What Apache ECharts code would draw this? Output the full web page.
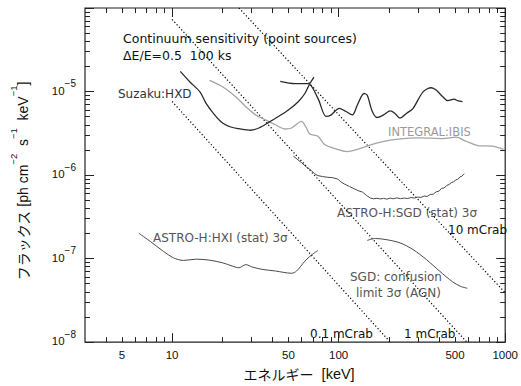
<!DOCTYPE html>
<html><head><meta charset="utf-8">
<script src="https://cdn.jsdelivr.net/npm/echarts@6/dist/echarts.min.js"></script>
<style>html,body{margin:0;padding:0;background:#fff}#c{width:521px;height:386px}</style>
</head><body><div id="c"></div>
<script>
// ---- tick values ----
const xMajorTicks = [10, 100, 1000];
const xMinorTicks = [4, 5, 6, 7, 8, 9, 20, 30, 40, 50, 60, 70, 80, 90, 200, 300, 400, 500, 600, 700, 800, 900];
const xTickLabels = [5, 10, 50, 100, 500, 1000];
const yMajorTicks = [1e-8, 1e-7, 1e-6, 1e-5, 1e-4];
const yMinorTicks = [2e-8, 3e-8, 4e-8, 5e-8, 6e-8, 7e-8, 8e-8, 9e-8,
  2e-7, 3e-7, 4e-7, 5e-7, 6e-7, 7e-7, 8e-7, 9e-7,
  2e-6, 3e-6, 4e-6, 5e-6, 6e-6, 7e-6, 8e-6, 9e-6,
  2e-5, 3e-5, 4e-5, 5e-5, 6e-5, 7e-5, 8e-5, 9e-5];
const yTickLabels = [1e-8, 1e-7, 1e-6, 1e-5];

// ---- Suzaku HXD (PIN part) ----
const hxdPinE = [11.2, 12.8, 14.7, 16.0, 18.0, 20.1, 22.5, 25.2, 29.6, 33.2, 38.0, 43.5, 49.9, 57.2, 62.7, 67.1, 71.1];
const hxdPinF = [1.74e-5, 1.30e-5, 9.9e-6, 7.2e-6, 5.25e-6, 4.19e-6, 3.76e-6, 3.59e-6, 3.44e-6, 3.66e-6, 4.27e-6, 5.02e-6, 6.01e-6, 7.55e-6, 9.47e-6, 1.24e-5, 1.49e-5];
// ---- Suzaku HXD (GSO part) ----
const hxdGsoE = [44.6, 54.7, 65.5, 75.1, 84.1, 89.7, 100.9, 110, 121, 129.5, 142, 148.5, 159, 170, 186, 204, 217, 233, 256, 280, 321, 360, 385, 422, 452, 494, 518, 554];
const hxdGsoF = [1.32e-5, 1.24e-5, 1.24e-5, 8.27e-6, 5.03e-6, 5.21e-6, 6.30e-6, 5.81e-6, 5.25e-6, 6.89e-6, 9.47e-6, 9.04e-6, 5.81e-6, 4.89e-6, 5.25e-6, 5.85e-6, 5.50e-6, 4.80e-6, 5.50e-6, 6.30e-6, 9.92e-6, 1.11e-5, 1.04e-5, 8.66e-6, 7.76e-6, 8.11e-6, 7.76e-6, 7.56e-6];
// ---- INTEGRAL IBIS ----
const ibisE = [16.8, 20.1, 24.1, 27.7, 31.7, 36.3, 41.7, 47.7, 52.2, 59.8, 64.1, 67.1, 75.1, 82.3, 94.4, 113, 129.5, 148.5, 178, 234, 307, 422, 506, 580, 695, 834, 977];
const ibisF = [1.36e-5, 1.14e-5, 8.66e-6, 6.59e-6, 5.25e-6, 4.58e-6, 4.00e-6, 3.56e-6, 3.66e-6, 4.39e-6, 3.66e-6, 3.10e-6, 2.92e-6, 2.32e-6, 2.08e-6, 1.91e-6, 2.03e-6, 2.22e-6, 2.48e-6, 2.71e-6, 2.79e-6, 2.73e-6, 2.84e-6, 2.55e-6, 2.24e-6, 2.22e-6, 2.03e-6];
// ---- ASTRO-H SGD (stat) 3 sigma ----
const sgdE = [53.4, 57, 59.8, 64, 68.6, 72, 75.1, 80, 86.1, 92, 98.6, 103, 108, 116, 124, 131, 139, 147, 155, 162, 170, 178, 186, 195, 204, 213, 223, 235, 248, 260, 272, 285, 298, 312, 326, 340, 355, 370, 385, 400, 415, 430, 445, 460, 475, 490, 506, 520, 535, 550, 567];
const sgdF = [1.69e-6, 1.52e-6, 1.41e-6, 1.25e-6, 1.13e-6, 1.03e-6, 9.84e-7, 9.6e-7, 9.4e-7, 9.3e-7, 8.97e-7, 8.3e-7, 7.83e-7, 7.3e-7, 6.84e-7, 6.5e-7, 6.25e-7, 5.7e-7, 5.31e-7, 5.2e-7, 5.27e-7, 5.18e-7, 5.25e-7, 5.15e-7, 5.3e-7, 5.2e-7, 5.33e-7, 5.22e-7, 5.3e-7, 5.24e-7, 5.38e-7, 5.3e-7, 5.45e-7, 5.4e-7, 5.6e-7, 5.55e-7, 5.85e-7, 5.9e-7, 6.3e-7, 6.4e-7, 6.95e-7, 7.0e-7, 7.5e-7, 7.7e-7, 8.1e-7, 8.3e-7, 8.75e-7, 8.9e-7, 9.5e-7, 9.7e-7, 1.04e-6];
// ---- ASTRO-H HXI (stat) 3 sigma ----
const hxiE = [6.32, 7.41, 8.88, 10.2, 11.7, 14.0, 16.8, 20.1, 23.0, 25.2, 27.7, 30.3, 34.7, 41.7, 52.2, 55.9, 62.7, 68.6, 75.1];
const hxiF = [2.01e-7, 1.60e-7, 1.22e-7, 1.02e-7, 9.5e-8, 9.84e-8, 9.57e-8, 8.9e-8, 8.13e-8, 7.76e-8, 8.47e-8, 7.92e-8, 7.43e-8, 7.10e-8, 6.67e-8, 7.10e-8, 9.31e-8, 1.10e-7, 1.25e-7];
// ---- SGD confusion limit 3 sigma (AGN) ----
const confE = [148.5, 166, 195, 234, 280, 336, 403, 484, 542, 593];
const confF = [1.65e-7, 1.74e-7, 1.68e-7, 1.54e-7, 1.28e-7, 9.75e-8, 7.10e-8, 5.26e-8, 4.63e-8, 4.41e-8];
// ---- Crab reference lines (end points) ----
const crab01E = [10, 204];
const crab01F = [7.6e-6, 1e-8];
const crab1E = [10, 588];
const crab1F = [7.3e-5, 1e-8];
const crab10E = [25.2, 1000];
const crab10F = [1e-4, 3.9e-8];

const zip = (a, b) => a.map((v, i) => [v, b[i]]);
const FONT = '"DejaVu Sans", "Noto Sans CJK JP", sans-serif';
const TFONT = '"Liberation Sans", "DejaVu Sans", sans-serif';
const JFONT = '"Noto Sans CJK JP", "Liberation Sans", sans-serif';

function xAx(position, ticks, len, labels) {
  return {
    type: 'log', logBase: 10, min: 3, max: 1000, position: position,
    axisLine: { show: false },
    splitLine: { show: false },
    axisTick: { show: true, inside: true, length: len, customValues: ticks, lineStyle: { color: '#222', width: 1 } },
    axisLabel: labels ? {
      show: true, customValues: labels, margin: 7, color: '#111', fontSize: 11.5, fontFamily: TFONT,
      formatter: v => String(+(+v).toPrecision(6))
    } : { show: false },
    name: labels ? '{j|エネルギー}{l|  [keV]}' : '',
    nameLocation: 'middle', nameGap: 23,
    nameTextStyle: {
      fontSize: 14, color: '#111', fontFamily: JFONT, padding: [0, 0, 0, 8],
      rich: {
        j: { fontSize: 14, fontFamily: JFONT, color: '#111' },
        l: { fontSize: 14.5, fontFamily: TFONT, color: '#111' }
      }
    }
  };
}
function yAx(position, ticks, len, labels) {
  return {
    type: 'log', logBase: 10, min: 1e-8, max: 1e-4, position: position,
    axisLine: { show: false },
    splitLine: { show: false },
    axisTick: { show: true, inside: true, length: len, customValues: ticks, lineStyle: { color: '#222', width: 1 } },
    axisLabel: labels ? {
      show: true, customValues: labels, margin: 9, color: '#111', fontFamily: TFONT,
      padding: [0, 0, 8, 0],
      formatter: v => '{n|10}{s|−' + Math.round(-Math.log10(v)) + '}',
      rich: {
        n: { fontSize: 11.5, fontFamily: TFONT, color: '#111', lineHeight: 18, verticalAlign: 'bottom' },
        s: { fontSize: 10, fontFamily: TFONT, color: '#111', lineHeight: 10, verticalAlign: 'top' }
      }
    } : { show: false },
    name: labels ? '{j|フラックス}{t| [ph cm}{s|−2}{t|  s}{s|−1}{t|  keV}{s|−1}{t|]}' : '',
    nameLocation: 'middle', nameGap: 55, nameRotate: 90,
    nameTextStyle: {
      fontFamily: JFONT, color: '#111', padding: [0, 12, 0, 0],
      rich: {
        j: { fontSize: 14, fontFamily: JFONT, color: '#111', lineHeight: 22, verticalAlign: 'bottom' },
        t: { fontSize: 14, fontFamily: TFONT, color: '#111', lineHeight: 22, verticalAlign: 'bottom' },
        s: { fontSize: 9.5, fontFamily: TFONT, color: '#111', lineHeight: 10, verticalAlign: 'top' }
      }
    }
  };
}

function lineSeries(data, color, width, smooth, z) {
  return {
    type: 'line', data: data, xAxisIndex: 0, yAxisIndex: 0,
    symbol: 'none', showSymbol: false, smooth: smooth, clip: true, z: z || 2,
    lineStyle: { color: color, width: width }
  };
}
function dotSeries(data) {
  return {
    type: 'line', data: data, xAxisIndex: 0, yAxisIndex: 0,
    symbol: 'none', showSymbol: false, clip: true, z: 1,
    lineStyle: { color: '#000', width: 1.2, type: [1.2, 2.2] }
  };
}

function txt(x, y, s, color, size) {
  return {
    type: 'text', x: x, y: y, silent: true,
    style: { text: s, fill: color, font: (size || 12) + 'px ' + FONT, textAlign: 'left', textVerticalAlign: 'middle', verticalAlign: 'middle' }
  };
}

const chart = echarts.init(document.getElementById('c'), null, { renderer: 'svg' });
chart.setOption({
  animation: false,
  backgroundColor: '#fff',
  grid: { left: 85, right: 12, top: 8, bottom: 39, show: true, borderColor: '#222', borderWidth: 1.2, backgroundColor: 'transparent' },
  xAxis: [
    xAx('bottom', xMajorTicks, 9, xTickLabels),
    xAx('bottom', xMinorTicks, 5, null),
    xAx('top', xMajorTicks, 9, null),
    xAx('top', xMinorTicks, 5, null)
  ],
  yAxis: [
    yAx('left', yMajorTicks, 9, yTickLabels),
    yAx('left', yMinorTicks, 5, null),
    yAx('right', yMajorTicks, 9, null),
    yAx('right', yMinorTicks, 5, null)
  ],
  series: [
    dotSeries(zip(crab01E, crab01F)),
    dotSeries(zip(crab1E, crab1F)),
    dotSeries(zip(crab10E, crab10F)),
    lineSeries(zip(ibisE, ibisF), '#a4a4a4', 1.3, 0.3, 2),
    lineSeries(zip(hxdPinE, hxdPinF), '#2a2a2a', 1.3, 0.3, 3),
    lineSeries(zip(hxdGsoE, hxdGsoF), '#2a2a2a', 1.3, 0.3, 3),
    lineSeries(zip(sgdE, sgdF), '#4a4a4a', 1, false, 3),
    lineSeries(zip(hxiE, hxiF), '#4a4a4a', 1, 0.3, 3),
    lineSeries(zip(confE, confF), '#4a4a4a', 1, 0.3, 3)
  ],
  graphic: [
    txt(123, 38, 'Continuum sensitivity (point sources)', '#111', 12.5),
    txt(123, 55, 'ΔE/E=0.5  100 ks', '#111', 12.5),
    txt(118, 94, 'Suzaku:HXD', '#333'),
    txt(388, 132, 'INTEGRAL:IBIS', '#9a9a9a', 11.5),
    txt(337, 213, 'ASTRO-H:SGD (stat) 3σ', '#555'),
    txt(448, 230, '10 mCrab', '#111'),
    txt(153, 238, 'ASTRO-H:HXI (stat) 3σ', '#555'),
    txt(350, 277, 'SGD: confusion', '#555'),
    txt(356, 293, 'limit 3σ (AGN)', '#555'),
    txt(310, 334, '0.1 mCrab', '#111'),
    txt(404, 334, '1 mCrab', '#111')
  ]
});
</script></body></html>
